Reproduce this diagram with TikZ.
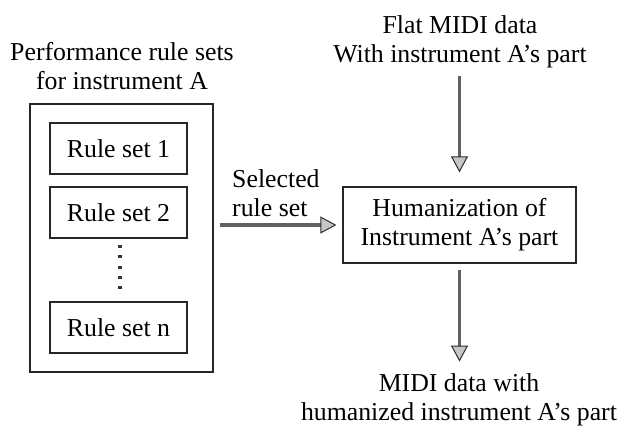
\documentclass[tikz,border=0pt]{standalone}
\usepackage{fontspec}
\setmainfont{Liberation Serif}
\usetikzlibrary{arrows.meta}
\begin{document}
\begin{tikzpicture}[x=1pt,y=-1pt,
  every node/.style={font=\fontsize{25.8}{29}\selectfont},
  txt/.style={align=center,inner sep=0pt},
  rulebox/.style={draw=black!85,line width=1.2pt,minimum width=137pt,minimum height=51pt,inner sep=0pt},
  bigbox/.style={draw=black!85,line width=1.2pt,inner sep=0pt},
  flow/.style={draw=gray!75!black,line width=3.5pt,
    -{Triangle[width=17pt,length=16pt,fill=gray!45,color=gray!35!black,line width=1pt]}},
  dotmark/.style={fill=black!80,minimum width=4pt,minimum height=3pt,inner sep=0pt}
]
\useasboundingbox (0,0) rectangle (621,426);
\fill[white] (0,0) rectangle (621,426);

\node[txt] (perf) at (122,66) {Performance rule sets\\for instrument A};
\node[txt] (flat) at (460,42) {Flat MIDI data\\With instrument A's part};

\node[bigbox,minimum width=183pt,minimum height=268pt] (outer) at (121.5,238) {};
\node[rulebox] (rs1) at (118.5,148.5) {Rule set 1};
\node[rulebox] (rs2) at (118.5,212.5) {Rule set 2};
\node[rulebox] (rsn) at (118.5,327.5) {Rule set n};

\node[dotmark] (d1) at (120,246) {};
\node[dotmark] (d2) at (120,256) {};
\node[dotmark] (d3) at (120,267) {};
\node[dotmark] (d4) at (120,277) {};
\node[dotmark] (d5) at (120,287) {};

\node[bigbox,minimum width=233pt,minimum height=76pt,align=center] (hum) at (459.5,225) {Humanization of\\Instrument A's part};

\node[txt,anchor=west,align=left] (sel) at (232,193) {Selected\\rule set};

\node[txt] (out) at (459,400) {MIDI data with\\humanized instrument A's part};

\draw[flow,shorten <=6pt,shorten >=6pt] (outer.east |- hum.west) -- (hum.west);
\draw[flow,shorten <=8pt,shorten >=14pt] (hum.north |- flat.south) -- (hum.north);
\draw[flow,shorten <=6pt,shorten >=12pt] (hum.south) -- (hum.south |- out.north);
\end{tikzpicture}
\end{document}
